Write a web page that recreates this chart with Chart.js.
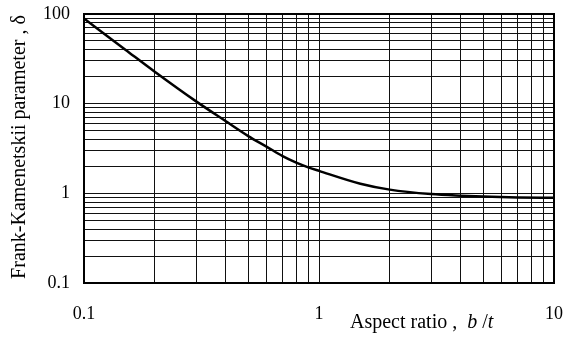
<!DOCTYPE html>
<html>
<head>
<meta charset="utf-8">
<script src="https://cdn.jsdelivr.net/npm/chart.js@4/dist/chart.umd.min.js"></script>
<style>
  html, body { margin: 0; padding: 0; background: #fff; }
  canvas { display: block; }
</style>
</head>
<body>
<canvas id="chart" width="563" height="345"></canvas>
<script>
// Aspect ratio b/t and the Frank-Kamenetskii parameter delta
const aspectRatio = [0.1, 0.15, 0.2, 0.3, 0.4, 0.5, 0.6, 0.7, 0.8, 0.9, 1, 1.5, 2, 3, 4, 5, 7, 10];
const deltaValues = [89, 40, 22.7, 10.6, 6.4, 4.35, 3.3, 2.6, 2.2, 1.95, 1.78, 1.28, 1.1, 0.98, 0.94, 0.92, 0.9, 0.89];

// Grid lines at every 1..9 step of each decade
const xGridValues = [0.1, 0.2, 0.3, 0.4, 0.5, 0.6, 0.7, 0.8, 0.9, 1, 2, 3, 4, 5, 6, 7, 8, 9, 10];
const yGridValues = [0.1, 0.2, 0.3, 0.4, 0.5, 0.6, 0.7, 0.8, 0.9, 1, 2, 3, 4, 5, 6, 7, 8, 9, 10,
                     20, 30, 40, 50, 60, 70, 80, 90, 100];
const xTickLabels = ['0.1', '1', '10'];
const yTickLabels = ['0.1', '1', '10', '100'];

const SERIF = '"Liberation Serif", "Times New Roman", serif';

function labelFor(list) {
  return function (value) {
    const s = String(+value.toPrecision(6));
    return list.includes(s) ? s : '';
  };
}

// keep the plot area exactly where the layout padding puts it
function noOverflow(scale) {
  scale.paddingTop = 0;
  scale.paddingBottom = 0;
  scale.paddingLeft = 0;
  scale.paddingRight = 0;
}

const frameAndTitles = {
  id: 'frameAndTitles',
  afterDraw(chart) {
    const { ctx, chartArea: a } = chart;
    ctx.save();
    // plot frame
    ctx.strokeStyle = '#000';
    ctx.lineWidth = 2;
    ctx.strokeRect(a.left, a.top, a.right - a.left, a.bottom - a.top);

    // x axis title with italic symbols
    ctx.fillStyle = '#000';
    ctx.textBaseline = 'middle';
    ctx.textAlign = 'left';
    const parts = [
      ['Aspect ratio ,  ', false],
      ['b', true],
      [' /', false],
      ['t', true]
    ];
    let x = 350;
    const y = 323;
    for (const [txt, it] of parts) {
      ctx.font = (it ? 'italic ' : '') + '20px ' + SERIF;
      ctx.fillText(txt, x, y);
      x += ctx.measureText(txt).width;
    }

    // y axis title
    ctx.translate(20, 147);
    ctx.rotate(-Math.PI / 2);
    ctx.textAlign = 'center';
    ctx.font = '20px ' + SERIF;
    ctx.fillText('Frank-Kamenetskii parameter , \u03b4', 0, 0);
    ctx.restore();
  }
};

new Chart(document.getElementById('chart'), {
  type: 'line',
  data: {
    datasets: [{
      data: aspectRatio.map((v, i) => ({ x: v, y: deltaValues[i] })),
      borderColor: '#000',
      borderWidth: 2.5,
      pointRadius: 0,
      fill: false,
      cubicInterpolationMode: 'monotone'
    }]
  },
  options: {
    responsive: false,
    animation: false,
    layout: { padding: { left: 0, top: 14, right: 9, bottom: 0 } },
    plugins: { legend: { display: false }, tooltip: { enabled: false } },
    scales: {
      x: {
        type: 'logarithmic',
        min: 0.1,
        max: 10,
        afterBuildTicks(scale) { scale.ticks = xGridValues.map(v => ({ value: v })); },
        afterFit(scale) { scale.height = 62; noOverflow(scale); },
        grid: { color: '#111', lineWidth: 1, drawTicks: false },
        border: { display: false },
        ticks: {
          autoSkip: false,
          maxRotation: 0,
          padding: 20,
          color: '#000',
          font: { family: SERIF, size: 18 },
          callback: labelFor(xTickLabels)
        }
      },
      y: {
        type: 'logarithmic',
        min: 0.1,
        max: 100,
        afterBuildTicks(scale) { scale.ticks = yGridValues.map(v => ({ value: v })); },
        afterFit(scale) { scale.width = 84; noOverflow(scale); },
        grid: { color: '#111', lineWidth: 1, drawTicks: false },
        border: { display: false },
        ticks: {
          autoSkip: false,
          padding: 14,
          color: '#000',
          font: { family: SERIF, size: 18 },
          callback: labelFor(yTickLabels)
        }
      }
    }
  },
  plugins: [frameAndTitles]
});
</script>
</body>
</html>
